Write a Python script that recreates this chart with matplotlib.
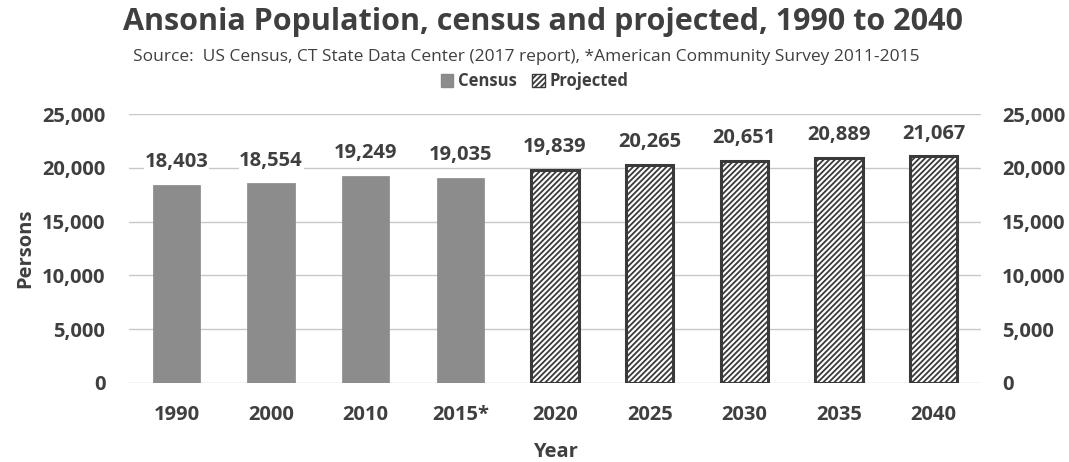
import matplotlib
matplotlib.use("Agg")
import matplotlib.pyplot as plt
import numpy as np
from matplotlib.patches import Patch

years = ["1990", "2000", "2010", "2015*", "2020", "2025", "2030", "2035", "2040"]
values = [18403, 18554, 19249, 19035, 19839, 20265, 20651, 20889, 21067]
is_projected = [False, False, False, False, True, True, True, True, True]
yticks = [0, 5000, 10000, 15000, 20000, 25000]

plt.rcParams['font.family'] = ['Open Sans', 'DejaVu Sans']
plt.rcParams['hatch.linewidth'] = 1.3
txt = '#3f3f3f'
fs = 14.5

fig = plt.figure(figsize=(10.69, 4.62), dpi=100)
ax = fig.add_axes([0.1207, 0.171, 0.797, 0.582])
x = np.arange(len(years))
for xi, v, p in zip(x, values, is_projected):
    if p:
        ax.bar(xi, v, width=0.5, facecolor='white', edgecolor='#3a3a3a', hatch='//////', linewidth=2.2, zorder=3)
    else:
        ax.bar(xi, v, width=0.5, facecolor='#8c8c8c', edgecolor='#888888', linewidth=0.5, zorder=3)
    ax.text(xi, v + 1200, f"{v:,}", ha='center', va='bottom', fontsize=fs, fontweight='bold', color=txt,
            bbox=dict(facecolor='white', edgecolor='none', pad=0.5), zorder=4)

ax.set_ylim(0, 25000)
ax.set_xlim(-0.5, len(years) - 0.5)
ax.set_yticks(yticks)
ax.set_yticklabels([f"{t:,}" for t in yticks])
ax.set_xticks(x)
ax.set_xticklabels(years)
ax.yaxis.grid(True, color='#c8c8c8', linewidth=1.0, zorder=0)
ax.set_axisbelow(True)
for s in ax.spines.values():
    s.set_visible(False)
ax.tick_params(axis='y', length=0, labelsize=fs, labelcolor=txt, pad=17)
ax.tick_params(axis='x', length=0, labelsize=fs, labelcolor=txt, pad=16)
for lab in ax.get_xticklabels() + ax.get_yticklabels():
    lab.set_fontweight('bold')
ax.set_ylabel("Persons", fontsize=fs, fontweight='bold', color=txt, labelpad=5)
ax.set_xlabel("Year", fontsize=fs, fontweight='bold', color=txt, labelpad=12)

ax2 = ax.twinx()
ax2.set_ylim(0, 25000)
ax2.set_yticks(yticks)
ax2.set_yticklabels([f"{t:,}" for t in yticks])
for s in ax2.spines.values():
    s.set_visible(False)
ax2.tick_params(axis='y', length=0, labelsize=fs, labelcolor=txt, pad=15)
for lab in ax2.get_yticklabels():
    lab.set_fontweight('bold')

fig.text(0.508, 0.952, "Ansonia Population, census and projected, 1990 to 2040", ha='center', va='center',
         fontsize=22, fontweight='bold', color=txt)
fig.text(0.492, 0.876, "Source:  US Census, CT State Data Center (2017 report), *American Community Survey 2011-2015",
         ha='center', va='center', fontsize=12.5, color=txt)

handles = [Patch(facecolor='#8c8c8c', edgecolor='#888888', label='Census'),
           Patch(facecolor='white', edgecolor='#3a3a3a', hatch='//////', label='Projected')]
leg = fig.legend(handles=handles, loc='center', bbox_to_anchor=(0.500, 0.824), ncol=2, frameon=False,
                 handlelength=0.75, handleheight=0.75, handletextpad=0.3, columnspacing=0.9,
                 prop={'size': 12, 'weight': 'bold'})
for t in leg.get_texts():
    t.set_color(txt)

fig.savefig("out.png", dpi=100)
